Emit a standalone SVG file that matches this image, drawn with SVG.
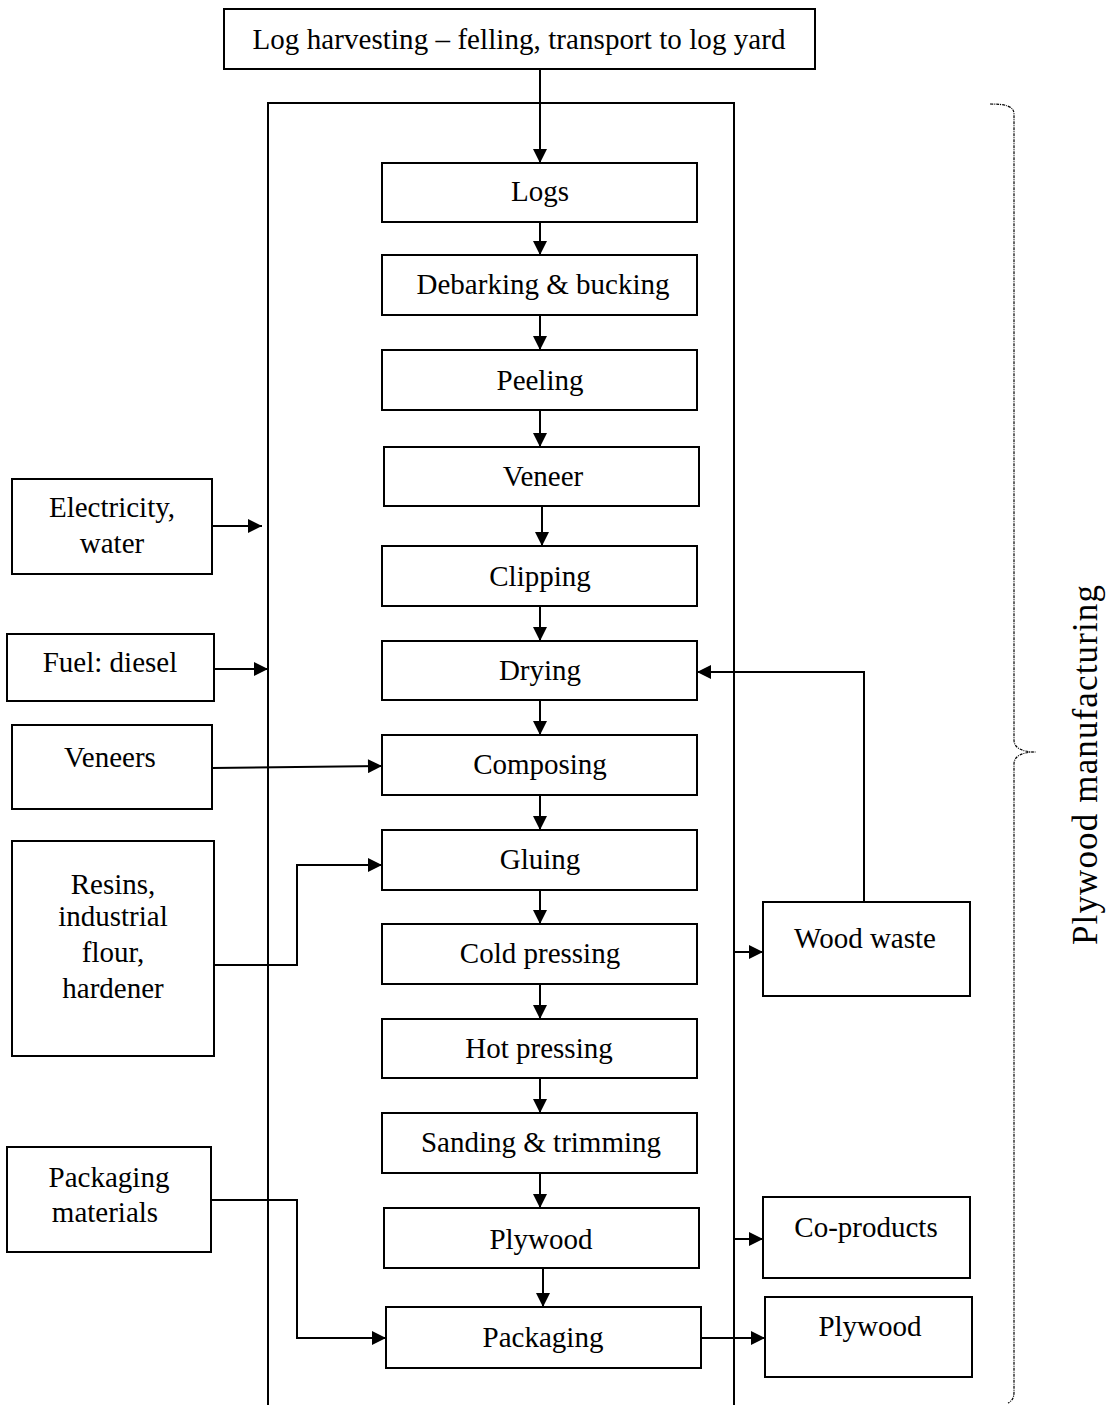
<svg xmlns="http://www.w3.org/2000/svg" width="1109" height="1405" viewBox="0 0 1109 1405">
<style>
rect{fill:#fff;stroke:#000;stroke-width:2}
text{font-family:"Liberation Serif","Times New Roman",serif;font-size:29px;fill:#000;text-anchor:middle}
.c{fill:none;stroke:#000;stroke-width:2}
.b{fill:none;stroke:#000;stroke-width:1.2;stroke-dasharray:3 1 1 1}
</style>
<defs>
<marker id="a" viewBox="0 0 10 10" refX="10" refY="5" markerWidth="8" markerHeight="7" markerUnits="strokeWidth" orient="auto"><path d="M0,0L10,5L0,10z" fill="#000"/></marker>
</defs>
<g id="frame"><path class="c" d="M268,1405V103H734V1405"/></g>
<g id="connectors">
<path class="c" d="M540,69V163" marker-end="url(#a)"/>
<path class="c" d="M540,222V255" marker-end="url(#a)"/>
<path class="c" d="M540,315V350" marker-end="url(#a)"/>
<path class="c" d="M540,410V447" marker-end="url(#a)"/>
<path class="c" d="M542,506V546" marker-end="url(#a)"/>
<path class="c" d="M540,606V641" marker-end="url(#a)"/>
<path class="c" d="M540,700V735" marker-end="url(#a)"/>
<path class="c" d="M540,795V830" marker-end="url(#a)"/>
<path class="c" d="M540,890V924" marker-end="url(#a)"/>
<path class="c" d="M540,984V1019" marker-end="url(#a)"/>
<path class="c" d="M540,1078V1113" marker-end="url(#a)"/>
<path class="c" d="M540,1173V1208" marker-end="url(#a)"/>
<path class="c" d="M543,1268V1307" marker-end="url(#a)"/>
<path class="c" d="M212,526H262" marker-end="url(#a)"/>
<path class="c" d="M214,669H268" marker-end="url(#a)"/>
<path class="c" d="M212,768L382,766" marker-end="url(#a)"/>
<path class="c" d="M214,965H297V865H382" marker-end="url(#a)"/>
<path class="c" d="M211,1200H297V1338H386" marker-end="url(#a)"/>
<path class="c" d="M864,902V672H697" marker-end="url(#a)"/>
<path class="c" d="M734,952H763" marker-end="url(#a)"/>
<path class="c" d="M734,1239H763" marker-end="url(#a)"/>
<path class="c" d="M701,1338H765" marker-end="url(#a)"/>
</g>
<g id="brace"><path class="b" d="M990,104C1005,104 1014,106 1014,114V740C1014,748 1022,752 1036,752C1022,752 1014,756 1014,764V1392C1014,1398 1012,1401 1008,1403"/></g>
<g id="n-harvest"><rect x="224" y="9" width="591" height="60"/><text x="519" y="49" textLength="533">Log harvesting – felling, transport to log yard</text></g>
<g id="n-logs"><rect x="382" y="163" width="315" height="59"/><text x="540" y="201">Logs</text></g>
<g id="n-debark"><rect x="382" y="255" width="315" height="60"/><text x="543" y="294">Debarking &amp; bucking</text></g>
<g id="n-peel"><rect x="382" y="350" width="315" height="60"/><text x="540" y="390">Peeling</text></g>
<g id="n-veneer"><rect x="384" y="447" width="315" height="59"/><text x="543" y="486">Veneer</text></g>
<g id="n-clip"><rect x="382" y="546" width="315" height="60"/><text x="540" y="586">Clipping</text></g>
<g id="n-dry"><rect x="382" y="641" width="315" height="59"/><text x="540" y="680">Drying</text></g>
<g id="n-compose"><rect x="382" y="735" width="315" height="60"/><text x="540" y="774">Composing</text></g>
<g id="n-glue"><rect x="382" y="830" width="315" height="60"/><text x="540" y="869">Gluing</text></g>
<g id="n-cold"><rect x="382" y="924" width="315" height="60"/><text x="540" y="963">Cold pressing</text></g>
<g id="n-hot"><rect x="382" y="1019" width="315" height="59"/><text x="539" y="1058">Hot pressing</text></g>
<g id="n-sand"><rect x="382" y="1113" width="315" height="60"/><text x="541" y="1152">Sanding &amp; trimming</text></g>
<g id="n-plywood"><rect x="384" y="1208" width="315" height="60"/><text x="541" y="1249">Plywood</text></g>
<g id="n-pack"><rect x="386" y="1307" width="315" height="61"/><text x="543" y="1347">Packaging</text></g>
<g id="n-elec"><rect x="12" y="479" width="200" height="95"/><text x="112" y="517">Electricity,</text><text x="112" y="553">water</text></g>
<g id="n-fuel"><rect x="7" y="634" width="207" height="67"/><text x="110" y="672">Fuel: diesel</text></g>
<g id="n-veneers"><rect x="12" y="725" width="200" height="84"/><text x="110" y="767">Veneers</text></g>
<g id="n-resins"><rect x="12" y="841" width="202" height="215"/><text x="113" y="894">Resins,</text><text x="113" y="926">industrial</text><text x="113" y="962">flour,</text><text x="113" y="998">hardener</text></g>
<g id="n-packmat"><rect x="7" y="1147" width="204" height="105"/><text x="109" y="1187">Packaging</text><text x="105" y="1222">materials</text></g>
<g id="n-waste"><rect x="763" y="902" width="207" height="94"/><text x="865" y="948">Wood waste</text></g>
<g id="n-coprod"><rect x="763" y="1197" width="207" height="81"/><text x="866" y="1237">Co-products</text></g>
<g id="n-plyout"><rect x="765" y="1297" width="207" height="80"/><text x="870" y="1336">Plywood</text></g>
<g id="label"><text x="1097" y="765" transform="rotate(-90 1097 765)" style="font-size:35px" textLength="360">Plywood manufacturing</text></g>
</svg>
